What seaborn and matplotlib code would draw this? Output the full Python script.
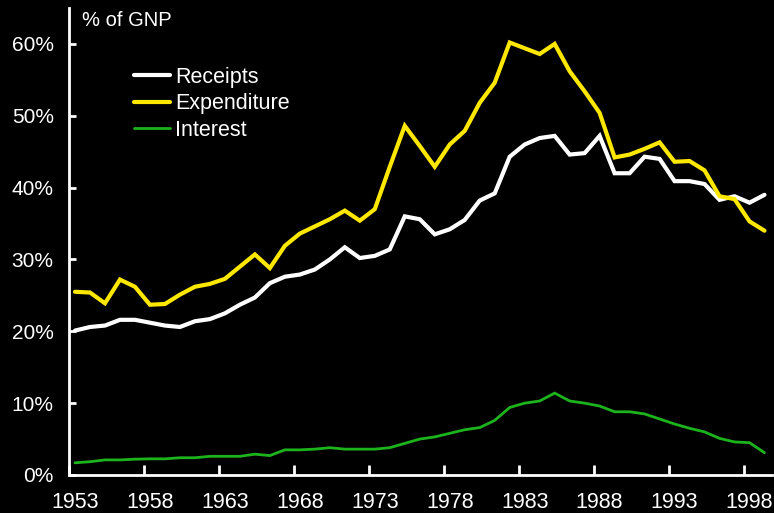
import matplotlib
matplotlib.use("Agg")
import matplotlib.pyplot as plt
import seaborn as sns
import pandas as pd
from matplotlib.ticker import FixedLocator, FuncFormatter

# Federal budget as a share of GNP, fiscal years 1953-1999
years = list(range(1953, 2000))
receipts = [20.1, 20.6, 20.8, 21.6, 21.6, 21.2, 20.8, 20.6, 21.4, 21.7,
            22.5, 23.7, 24.7, 26.7, 27.6, 27.9, 28.6, 30.0, 31.7, 30.2,
            30.5, 31.4, 36.0, 35.6, 33.5, 34.2, 35.5, 38.2, 39.2, 44.3,
            46.0, 46.9, 47.2, 44.6, 44.8, 47.2, 42.0, 42.0, 44.3, 44.0,
            40.9, 40.9, 40.5, 38.3, 38.8, 37.9, 39.0]
expenditure = [25.5, 25.4, 23.9, 27.2, 26.2, 23.7, 23.8, 25.1, 26.2, 26.6,
               27.3, 29.0, 30.7, 28.8, 31.9, 33.6, 34.6, 35.6, 36.8, 35.4,
               37.0, 42.9, 48.6, 45.8, 42.9, 46.0, 47.9, 51.8, 54.6, 60.2,
               59.4, 58.6, 60.0, 56.2, 53.4, 50.4, 44.2, 44.6, 45.4, 46.3,
               43.6, 43.7, 42.4, 38.8, 38.4, 35.3, 34.0]
interest = [1.7, 1.85, 2.1, 2.1, 2.2, 2.25, 2.25, 2.4, 2.4, 2.6,
            2.6, 2.6, 2.9, 2.7, 3.5, 3.5, 3.6, 3.8, 3.6, 3.6,
            3.6, 3.8, 4.4, 5.0, 5.3, 5.8, 6.3, 6.6, 7.6, 9.4,
            10.0, 10.3, 11.4, 10.3, 10.0, 9.6, 8.8, 8.8, 8.5, 7.8,
            7.1, 6.5, 6.0, 5.1, 4.6, 4.5, 3.1]
series_names = ["Receipts", "Expenditure", "Interest"]
series_colors = ["#FFFFFF", "#FFE800", "#1DB31D"]
series_widths = [3.0, 3.0, 2.0]
y_ticks = [0, 10, 20, 30, 40, 50, 60]
x_tick_years = [1953, 1958, 1963, 1968, 1973, 1978, 1983, 1988, 1993, 1998]

df = pd.DataFrame({"Year": years, "Receipts": receipts,
                   "Expenditure": expenditure, "Interest": interest})

sns.set_theme(style="white")
plt.rcParams["font.family"] = ["Liberation Sans", "DejaVu Sans"]

fig = plt.figure(figsize=(7.74, 5.13), dpi=100, facecolor="black")
ax = fig.add_axes([69 / 774, 38 / 513, (772 - 69) / 774, (505 - 38) / 513])
ax.set_facecolor("black")

for name, col, lw in zip(series_names, series_colors, series_widths):
    sns.lineplot(data=df, x="Year", y=name, color=col, linewidth=lw,
                 label=name, ax=ax, solid_joinstyle="miter")

ax.set_xlim(1952.6, 1999.5)
ax.set_ylim(0, 65)

# category-style axis: tick marks sit between years, labels on the years
ax.xaxis.set_major_locator(FixedLocator(x_tick_years))
ax.xaxis.set_minor_locator(FixedLocator([y - 0.4 for y in x_tick_years]))
ax.tick_params(axis="x", which="major", length=0, pad=12, labelsize=15.5,
               colors="white")
ax.tick_params(axis="x", which="minor", direction="in", length=7, width=2,
               color="white", bottom=True)
ax.yaxis.set_major_locator(FixedLocator(y_ticks))
ax.yaxis.set_major_formatter(FuncFormatter(lambda v, p: f"{v:.0f}%"))
ax.tick_params(axis="y", which="major", direction="in", length=5, width=2,
               color="white", labelcolor="white", labelsize=15, pad=11,
               left=True)

for side in ["top", "right"]:
    ax.spines[side].set_visible(False)
for side in ["left", "bottom"]:
    ax.spines[side].set_color("white")
    ax.spines[side].set_linewidth(2)

ax.set_xlabel("")
ax.set_ylabel("")

fig.text(82 / 774, 1 - 26.5 / 513, "% of GNP", color="white", fontsize=14.5,
         ha="left", va="baseline")

leg = ax.legend(loc="upper left", bbox_to_anchor=(134 / 774, 1 - 67 / 513),
                bbox_transform=fig.transFigure, frameon=False, fontsize=15.5,
                handlelength=1.68, handletextpad=0.24, labelspacing=0.25,
                borderpad=0, borderaxespad=0)
for txt in leg.get_texts():
    txt.set_color("white")

fig.savefig("out.png", dpi=100, facecolor="black")
